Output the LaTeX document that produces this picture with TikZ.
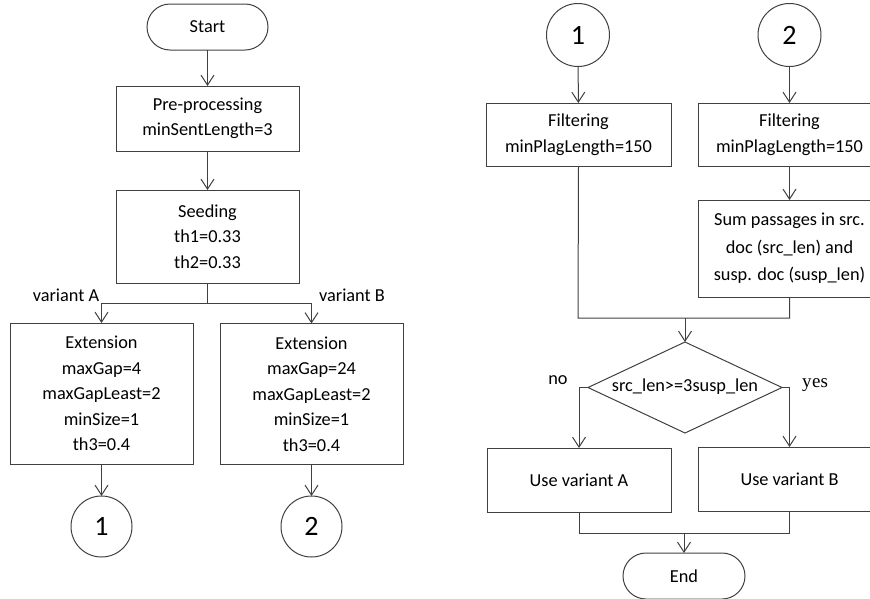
\documentclass[tikz,border=0pt]{standalone}
\usepackage{fontspec}
\setmainfont{Carlito}
\newfontfamily\serifyes{Liberation Serif}
\usetikzlibrary{arrows.meta,shapes.geometric}
\definecolor{ln}{RGB}{64,64,64}
\begin{document}
\begin{tikzpicture}[x=1pt,y=-1pt,
  every node/.style={inner sep=0pt,outer sep=0pt,text=black,font=\fontsize{18.3}{25.5}\selectfont},
  box/.style={draw=ln,line width=1pt,rectangle,align=center},
  term/.style={draw=ln,line width=1pt,rectangle,rounded corners=23pt,minimum width=121pt,minimum height=46pt},
  conn/.style={draw=ln,line width=1pt,circle,minimum size=61pt,font=\fontsize{28}{30}\selectfont},
  dec/.style={draw=ln,line width=1pt,diamond,minimum width=194pt,minimum height=91pt,aspect=2.13},
  lbl/.style={},
  line/.style={draw=ln,line width=1pt},
  arr/.style={draw=ln,line width=1pt,-{Straight Barb[length=10pt,width=13pt,line width=1pt]}}
]
\useasboundingbox (0,0) rectangle (870,598);
% left chart
\node[term] (start) at (207.5,27) {Start};
\node[box,minimum width=183pt,minimum height=65pt] (pre) at (207.5,118.5) {Pre-processing\\minSentLength=3};
\node[box,minimum width=183pt,minimum height=93pt] (seed) at (207.5,236.5) {Seeding\\th1=0.33\\th2=0.33};
\node[box,minimum width=183pt,minimum height=141pt] (extA) at (101.5,393.5) {Extension\\maxGap=4\\maxGapLeast=2\\minSize=1\\th3=0.4};
\node[box,minimum width=183pt,minimum height=141pt] (extB) at (311.5,394) {Extension\\maxGap=24\\maxGapLeast=2\\minSize=1\\th3=0.4};
\node[conn] (c1L) at (101.5,526.5) {1};
\node[conn] (c2L) at (311.5,526.5) {2};
\node[lbl] (vA) at (66,295) {variant A};
\node[lbl] (vB) at (352,295) {variant B};
\coordinate (split) at (207.5,303);
\draw[arr] (start) -- (pre);
\draw[arr] (pre) -- (seed);
\draw[line] (seed.south) -- (split);
\draw[arr] (split) -| (extA.north);
\draw[arr] (split) -| (extB.north);
\draw[arr] (extA) -- (c1L);
\draw[arr] (extB) -- (c2L);
% right chart
\node[conn,minimum size=63pt] (c1R) at (578,35) {1};
\node[conn,minimum size=63pt] (c2R) at (789.5,35) {2};
\node[box,minimum width=185pt,minimum height=63pt] (filt1) at (578.5,134.5) {Filtering\\minPlagLength=150};
\node[box,minimum width=183pt,minimum height=63pt] (filt2) at (789.5,134.5) {Filtering\\minPlagLength=150};
\node[box,minimum width=183pt,minimum height=97pt,font=\fontsize{18.3}{27.5}\selectfont] (sum) at (789.5,248.5) {Sum passages in src.\\doc (src\_len) and\\susp. doc (susp\_len)};
\node[dec] (dia) at (685,387.5) {};
\node (diatext) at (685,387) {src\_len>=3susp\_len};
\node[box,minimum width=184pt,minimum height=64pt] (useA) at (579,480) {Use variant A};
\node[box,minimum width=183pt,minimum height=64pt] (useB) at (789.5,479) {Use variant B};
\node[term,minimum width=122pt] (end) at (684,576) {End};
\node[lbl] (no) at (558,380) {no};
\node[lbl,font=\serifyes\fontsize{19}{21}\selectfont] (yes) at (815,385) {y\kern0.5pt es};
\coordinate (m1) at (578,318);
\coordinate (m2) at (789.5,318);
\coordinate (mj) at (685,318);
\coordinate (e1) at (579,533);
\coordinate (e2) at (789.5,533);
\coordinate (ej) at (684,533);
\draw[arr] (c1R) -- (filt1);
\draw[arr] (c2R) -- (filt2);
\draw[arr] (filt2) -- (sum);
\draw[line] (filt1.south) -- (m1) -- (m2) -- (sum.south);
\draw[arr] (mj) -- (dia.north);
\draw[arr] (dia.west) -| (useA.north);
\draw[arr] (dia.east) -| (useB.north);
\draw[line] (useA.south) -- (e1) -- (e2) -- (useB.south);
\draw[arr] (ej) -- (end.north);
\end{tikzpicture}
\end{document}
